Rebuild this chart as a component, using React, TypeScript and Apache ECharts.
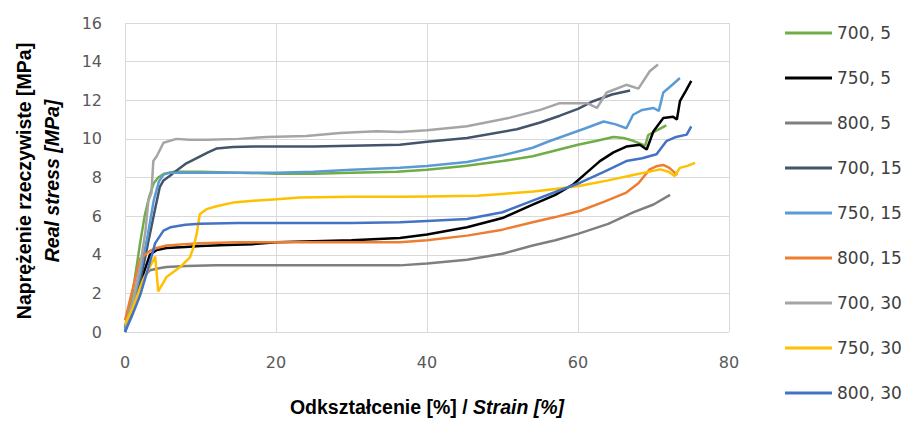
import React, { useEffect, useRef } from "react";
import * as echarts from "echarts";

const seriesNames = ["700, 5", "750, 5", "800, 5", "700, 15", "750, 15", "800, 15", "700, 30", "750, 30", "800, 30"];
const seriesColors = ["#70AD47", "#000000", "#7F7F7F", "#44546A", "#5B9BD5", "#ED7D31", "#A5A5A5", "#FFC000", "#4472C4"];

const xMin = 0, xMax = 80, xStep = 20;
const yMin = 0, yMax = 16, yStep = 2;

const s700_5 = [[0,0.2],[1,2.0],[2,4.6],[2.6,6.0],[3.2,7.0],[3.8,7.7],[4.4,8.0],[5.2,8.2],[6.5,8.3],[10,8.3],[15,8.25],[20,8.2],[25,8.2],[30,8.25],[36,8.3],[40,8.4],[45,8.6],[50,8.85],[54,9.1],[57,9.4],[60,9.7],[62.5,9.9],[64.7,10.1],[66,10.05],[67.3,9.9],[68.9,9.65],[69.3,10.2],[70.5,10.45],[71.7,10.7]];
const s750_5 = [[0,0.3],[1,1.3],[2,2.6],[2.6,3.2],[3.3,4.0],[4.2,4.25],[5.5,4.35],[8,4.4],[10,4.45],[13.5,4.5],[17,4.55],[20,4.65],[25,4.7],[30,4.75],[36.4,4.87],[40,5.05],[45.3,5.42],[50,5.9],[54,6.6],[57,7.1],[59.4,7.65],[61,8.2],[62.9,8.85],[64.7,9.3],[66.4,9.6],[68.2,9.7],[69.1,9.45],[70,10.4],[71.3,11.08],[72.6,11.15],[73.1,11.0],[73.5,11.95],[74.3,12.5],[75,13.0]];
const s800_5 = [[0,0.3],[1,1.3],[2,2.4],[2.6,2.9],[3.3,3.2],[4.5,3.3],[5.5,3.36],[8.2,3.42],[12,3.45],[20,3.45],[30,3.45],[36.4,3.45],[40,3.55],[45.3,3.74],[50,4.05],[54,4.48],[57,4.75],[60,5.08],[64,5.6],[67.3,6.19],[70,6.6],[72.2,7.1]];
const s700_15 = [[0,0],[1,1.2],[2,2.6],[3,4.5],[4,6.4],[4.6,7.5],[5.1,7.85],[6.0,8.1],[6.8,8.35],[8,8.7],[9.5,9.0],[11,9.3],[12.1,9.5],[14.3,9.58],[17,9.6],[20,9.6],[25,9.6],[30,9.65],[36.4,9.7],[40,9.85],[45.3,10.05],[51.9,10.5],[55,10.85],[57.6,11.2],[60,11.55],[62,11.95],[64.5,12.3],[66.9,12.5]];
const s750_15 = [[0,0.1],[1,1.4],[2,3.0],[3,5.0],[3.8,6.8],[4.5,7.8],[5.1,8.15],[6,8.25],[10,8.25],[15,8.25],[20,8.25],[25,8.3],[30,8.4],[36.4,8.5],[40,8.6],[45.3,8.8],[50,9.15],[54,9.54],[56,9.85],[58.5,10.2],[61,10.55],[63.4,10.9],[65,10.75],[66.4,10.55],[67.3,11.25],[68.5,11.5],[70,11.6],[70.7,11.45],[71.3,12.4],[72.5,12.8],[73.5,13.15]];
const s800_15 = [[0,0.6],[1,2.2],[2,3.8],[3.3,4.2],[4.2,4.35],[5.5,4.48],[8,4.55],[9.9,4.6],[15,4.65],[20,4.65],[25,4.65],[30,4.65],[36.4,4.65],[40,4.75],[45.3,4.99],[50,5.3],[54,5.68],[57,5.95],[60.3,6.28],[63.5,6.75],[66.4,7.22],[68,7.7],[69.5,8.42],[70.5,8.6],[71.3,8.65],[72.1,8.5],[72.8,8.25],[73.1,8.1]];
const s700_30 = [[0,0.3],[1,1.5],[2,3.4],[2.7,5.2],[3.1,6.8],[3.5,7.2],[3.75,8.85],[4.2,9.1],[5.1,9.8],[6.8,10.0],[8.5,9.95],[11,9.95],[15,10.0],[18.8,10.1],[24,10.15],[28.5,10.3],[33.3,10.4],[36.4,10.35],[40,10.45],[45.3,10.65],[51,11.1],[55,11.5],[57.6,11.85],[61.2,11.85],[62.5,11.6],[63.8,12.4],[66.4,12.8],[68,12.6],[69.5,13.5],[70.6,13.85]];
const s750_30 = [[0,0.4],[1,1.2],[2,2.3],[2.4,2.68],[3.2,3.3],[4.0,3.9],[4.4,2.1],[5.0,2.5],[5.5,2.85],[7.3,3.36],[8.6,3.87],[9.0,4.3],[9.5,5.08],[9.9,6.1],[10.8,6.36],[12,6.5],[14.3,6.7],[17,6.8],[20.1,6.87],[23.2,6.96],[30,7.0],[36.4,7.0],[40,7.02],[46.6,7.05],[50,7.15],[54.1,7.27],[57,7.4],[60.3,7.57],[64,7.85],[67.3,8.13],[70.9,8.42],[72,8.3],[72.8,8.08],[73.5,8.5],[74.5,8.6],[75.5,8.76]];
const s800_30 = [[0,0],[1,0.9],[2,1.9],[3,3.2],[4,4.6],[5.1,5.25],[6,5.42],[8,5.55],[9.9,5.6],[15,5.65],[20,5.65],[25,5.65],[30,5.65],[36.4,5.68],[40,5.75],[45.3,5.85],[50,6.2],[54,6.8],[57,7.25],[60.3,7.73],[63.5,8.3],[66.4,8.85],[68.5,9.0],[70.4,9.2],[71.7,9.88],[73,10.1],[74.4,10.22],[75,10.65]];

const seriesData = [s700_5, s750_5, s800_5, s700_15, s750_15, s800_15, s700_30, s750_30, s800_30];

const yTitle1 = "Naprężenie rzeczywiste [MPa]";
const yTitle2 = "Real stress [MPa]";
const xTitle1 = "Odkształcenie [%] / ";
const xTitle2 = "Strain [%]";

export default function App() {
  const ref = useRef<HTMLDivElement>(null);
  useEffect(() => {
    const chart = echarts.init(ref.current as HTMLDivElement, null, { renderer: "svg" });
    const titleFont = "Liberation Sans";
    chart.setOption({
      animation: false,
      backgroundColor: "#ffffff",
      grid: { left: 125, top: 23, right: 179, bottom: 89, containLabel: false, outerBoundsMode: "none" },
      legend: {
        data: seriesNames,
        orient: "vertical",
        left: 785,
        top: 24,
        padding: 0,
        icon: "rect",
        itemWidth: 47,
        itemHeight: 3,
        itemGap: 27,
        textStyle: { fontFamily: "DejaVu Sans", fontSize: 17, color: "#404040", lineHeight: 18 },
      },
      xAxis: {
        type: "value",
        min: xMin,
        max: xMax,
        interval: xStep,
        axisLine: { show: false },
        axisTick: { show: false },
        splitLine: { show: true, lineStyle: { color: "#D9D9D9", width: 1 } },
        axisLabel: { margin: 22, color: "#595959", fontFamily: "DejaVu Sans", fontSize: 16 },
        name: "{a|" + xTitle1 + "}{b|" + xTitle2 + "}",
        nameLocation: "middle",
        nameGap: 65,
        nameTextStyle: {
          rich: {
            a: { fontFamily: titleFont, fontWeight: "bold", fontSize: 19.5, color: "#000" },
            b: { fontFamily: titleFont, fontWeight: "bold", fontStyle: "italic", fontSize: 19.5, color: "#000" },
          },
        },
      },
      yAxis: {
        type: "value",
        min: yMin,
        max: yMax,
        interval: yStep,
        axisLine: { show: false },
        axisTick: { show: false },
        splitLine: { show: true, lineStyle: { color: "#D9D9D9", width: 1 } },
        axisLabel: { margin: 23, color: "#595959", fontFamily: "DejaVu Sans", fontSize: 16 },
      },
      graphic: [
        {
          type: "text",
          x: 24,
          y: 181,
          rotation: Math.PI / 2,
          style: {
            text: yTitle1,
            fontFamily: titleFont,
            fontWeight: "bold",
            fontSize: 19.5,
            fill: "#000",
            align: "center",
            verticalAlign: "middle",
          },
        },
        {
          type: "text",
          x: 52,
          y: 181,
          rotation: Math.PI / 2,
          style: {
            text: yTitle2,
            fontFamily: titleFont,
            fontWeight: "bold",
            fontStyle: "italic",
            fontSize: 19.5,
            fill: "#000",
            align: "center",
            verticalAlign: "middle",
          },
        },
      ],
      series: seriesNames.map((name, i) => ({
        name,
        type: "line",
        data: seriesData[i],
        showSymbol: false,
        symbol: "none",
        smooth: false,
        lineStyle: { color: seriesColors[i], width: 2.5 },
        itemStyle: { color: seriesColors[i] },
        z: 2 + i,
      })),
    });
    return () => chart.dispose();
  }, []);
  return (
    <div
      ref={ref}
      style={{ position: "absolute", left: 0, top: 0, width: 908, height: 421, background: "#fff" }}
    />
  );
}
